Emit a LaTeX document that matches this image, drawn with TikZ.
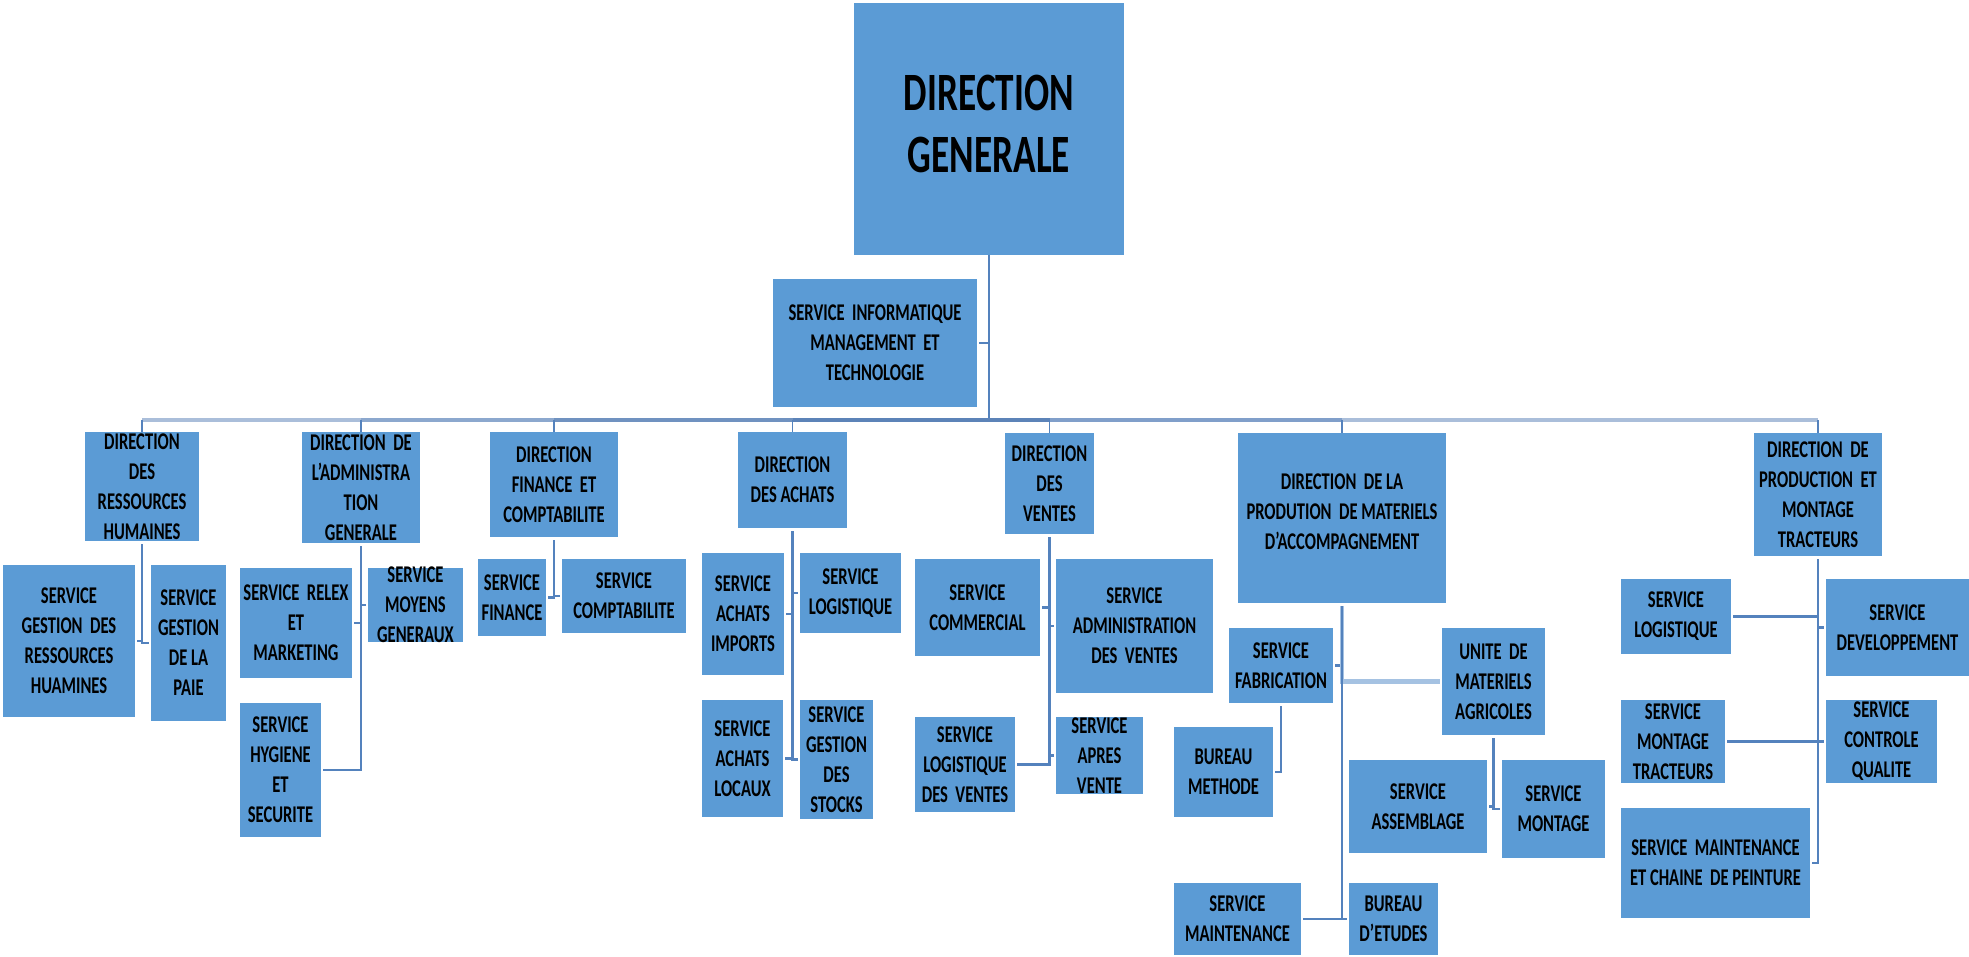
\documentclass[tikz,border=0pt]{standalone}
\usepackage{fontspec}
\setmainfont{Carlito}[FakeStretch=0.69]
\usetikzlibrary{fit}

\tikzset{
  unit/.style={fill={rgb, 255:red, 91; green, 155; blue, 213 }, inner sep=0pt, outer sep=0pt},
  unitext/.style={inner sep=0pt, align=center, text=black, font=\bfseries\fontsize{12}{15}\selectfont},
  chieftext/.style={unitext, font=\bfseries\fontsize{27}{31}\selectfont},
  link/.style={draw={rgb, 255:red, 84; green, 130; blue, 189 }, line width=1.3pt, shorten <=1.5pt, shorten >=1pt},
  stub/.style={draw={rgb, 255:red, 84; green, 130; blue, 189 }, line width=0.9pt},
  bus/.style={line width=2.4pt},
  unitlink/.style={link, draw={rgb, 255:red, 165; green, 194; blue, 226 }, line width=2.4pt}
}

\begin{document}
\begin{tikzpicture}[x=0.5pt,y=0.5pt,yscale=-1,xscale=1]
\useasboundingbox (0,0) rectangle (1969,957);

% Direction generale
\node [unit, fit={(854,3) (1124,255)}] (dg) {};
\node [unit, fit={(773,279) (977,407)}] (info) {};
\coordinate (hub) at (989,420);

% Directions
\node [unit, fit={(85,432) (199,541)}] (drh) {};
\node [unit, fit={(302,432) (420,543)}] (dag) {};
\node [unit, fit={(490,432) (618,537)}] (dfc) {};
\node [unit, fit={(738,432) (847,528)}] (dachats) {};
\node [unit, fit={(1005,433) (1094,534)}] (dventes) {};
\node [unit, fit={(1238,433) (1446,603)}] (dpma) {};
\node [unit, fit={(1754,433) (1882,556)}] (dpmt) {};

% Services
\node [unit, fit={(3,565) (135,717)}] (sgrh) {};
\node [unit, fit={(151,565) (226,721)}] (paie) {};
\node [unit, fit={(240,568) (352,678)}] (relex) {};
\node [unit, fit={(368,568) (463,642)}] (moyens) {};
\node [unit, fit={(240,703) (321,837)}] (hygiene) {};
\node [unit, fit={(478,559) (546,636)}] (finance) {};
\node [unit, fit={(562,559) (686,633)}] (compta) {};
\node [unit, fit={(702,553) (784,675)}] (imports) {};
\node [unit, fit={(800,553) (901,633)}] (logachats) {};
\node [unit, fit={(702,700) (783,817)}] (locaux) {};
\node [unit, fit={(800,700) (873,819)}] (stocks) {};
\node [unit, fit={(915,559) (1040,656)}] (commercial) {};
\node [unit, fit={(1056,559) (1213,693)}] (admventes) {};
\node [unit, fit={(915,717) (1015,812)}] (logventes) {};
\node [unit, fit={(1056,717) (1143,794)}] (apres) {};
\node [unit, fit={(1229,628) (1333,703)}] (fabrication) {};
\node [unit, fit={(1174,727) (1273,817)}] (methode) {};
\node [unit, fit={(1442,628) (1545,735)}] (unite) {};
\node [unit, fit={(1349,760) (1487,853)}] (assemblage) {};
\node [unit, fit={(1502,760) (1605,858)}] (montage) {};
\node [unit, fit={(1174,883) (1301,955)}] (maintenance) {};
\node [unit, fit={(1349,883) (1438,955)}] (etudes) {};
\node [unit, fit={(1621,579) (1731,654)}] (logtract) {};
\node [unit, fit={(1826,579) (1969,676)}] (developpement) {};
\node [unit, fit={(1621,700) (1725,783)}] (montract) {};
\node [unit, fit={(1826,700) (1937,783)}] (qualite) {};
\node [unit, fit={(1621,808) (1810,918)}] (peinture) {};

% Text Node
\node [chieftext] (dg-t) at (989,124) {DIRECTION\\GENERALE};
\node [unitext] (info-t) at (info) {SERVICE~ INFORMATIQUE\\MANAGEMENT~ ET\\TECHNOLOGIE};
\node [unitext] (drh-t) at (drh) {DIRECTION\\DES\\RESSOURCES\\HUMAINES};
\node [unitext] (dag-t) at (dag) {DIRECTION~ DE\\L'ADMINISTRA\\TION\\GENERALE};
\node [unitext] (dfc-t) at (dfc) {DIRECTION\\FINANCE~ ET\\COMPTABILITE};
\node [unitext] (dachats-t) at (dachats) {DIRECTION\\DES ACHATS};
\node [unitext] (dventes-t) at (dventes) {DIRECTION\\DES\\VENTES};
\node [unitext] (dpma-t) at (1342,512) {DIRECTION~ DE LA\\PRODUTION~ DE MATERIELS\\D'ACCOMPAGNEMENT};
\node [unitext] (dpmt-t) at (dpmt) {DIRECTION~ DE\\PRODUCTION~ ET\\MONTAGE\\TRACTEURS};
% Text Node
\node [unitext] (sgrh-t) at (sgrh) {SERVICE\\GESTION~ DES\\RESSOURCES\\HUAMINES};
\node [unitext] (paie-t) at (paie) {SERVICE\\GESTION\\DE LA\\PAIE};
\node [unitext] (relex-t) at (relex) {SERVICE~ RELEX\\ET\\MARKETING};
\node [unitext] (moyens-t) at (moyens) {SERVICE\\MOYENS\\GENERAUX};
\node [unitext] (hygiene-t) at (hygiene) {SERVICE\\HYGIENE\\ET\\SECURITE};
\node [unitext] (finance-t) at (finance) {SERVICE\\FINANCE};
\node [unitext] (compta-t) at (compta) {SERVICE\\COMPTABILITE};
\node [unitext] (imports-t) at (imports) {SERVICE\\ACHATS\\IMPORTS};
\node [unitext] (logachats-t) at (logachats) {SERVICE\\LOGISTIQUE};
\node [unitext] (locaux-t) at (locaux) {SERVICE\\ACHATS\\LOCAUX};
\node [unitext] (stocks-t) at (stocks) {SERVICE\\GESTION\\DES\\STOCKS};
\node [unitext] (commercial-t) at (commercial) {SERVICE\\COMMERCIAL};
\node [unitext] (admventes-t) at (admventes) {SERVICE\\ADMINISTRATION\\DES~ VENTES};
\node [unitext] (logventes-t) at (logventes) {SERVICE\\LOGISTIQUE\\DES~ VENTES};
\node [unitext] (apres-t) at (apres) {SERVICE\\APRES\\VENTE};
\node [unitext] (fabrication-t) at (fabrication) {SERVICE\\FABRICATION};
\node [unitext] (methode-t) at (methode) {BUREAU\\METHODE};
\node [unitext] (unite-t) at (unite) {UNITE~ DE\\MATERIELS\\AGRICOLES};
\node [unitext] (assemblage-t) at (assemblage) {SERVICE\\ASSEMBLAGE};
\node [unitext] (montage-t) at (montage) {SERVICE\\MONTAGE};
\node [unitext] (maintenance-t) at (maintenance) {SERVICE\\MAINTENANCE};
\node [unitext] (etudes-t) at (etudes) {BUREAU\\D'ETUDES};
\node [unitext] (logtract-t) at (logtract) {SERVICE\\LOGISTIQUE};
\node [unitext] (developpement-t) at (developpement) {SERVICE\\DEVELOPPEMENT};
\node [unitext] (montract-t) at (montract) {SERVICE\\MONTAGE\\TRACTEURS};
\node [unitext] (qualite-t) at (qualite) {SERVICE\\CONTROLE\\QUALITE};
\node [unitext] (peinture-t) at (peinture) {SERVICE~ MAINTENANCE\\ET CHAINE~ DE PEINTURE};

% Trunk and bus
\draw [stub] (dg.south) -- (hub);
\draw [link] (dg.south) |- (info.east);
\draw [bus, draw={rgb, 255:red, 170; green, 190; blue, 218 }] (drh.north |- hub) -- (dag.north |- hub);
\draw [bus, draw={rgb, 255:red, 140; green, 168; blue, 206 }] (dag.north |- hub) -- (dfc.north |- hub);
\draw [bus, draw={rgb, 255:red, 112; green, 146; blue, 192 }] (dfc.north |- hub) -- (dachats.north |- hub);
\draw [bus, draw={rgb, 255:red, 92; green, 131; blue, 184 }] (dachats.north |- hub) -- (dventes.north |- hub);
\draw [bus, draw={rgb, 255:red, 128; green, 159; blue, 202 }] (dventes.north |- hub) -- (dpma.north |- hub);
\draw [bus, draw={rgb, 255:red, 170; green, 190; blue, 218 }] (dpma.north |- hub) -- (dpmt.north |- hub);
\draw [stub] (drh.north |- hub) -- (drh.north);
\draw [stub] (dag.north |- hub) -- (dag.north);
\draw [stub] (dfc.north |- hub) -- (dfc.north);
\draw [stub] (dachats.north |- hub) -- (dachats.north);
\draw [stub] (dventes.north |- hub) -- (dventes.north);
\draw [stub] (dpma.north |- hub) -- (dpma.north);
\draw [stub] (dpmt.north |- hub) -- (dpmt.north);

% Elbow links
\draw [link] (drh.south) |- (sgrh.east);
\draw [link] (drh.south) |- (paie.west);
\draw [link] (dag.south) |- (relex.east);
\draw [link] (dag.south) |- (moyens.west);
\draw [link] (dag.south) |- (hygiene.east);
\draw [link] (dfc.south) |- (finance.east);
\draw [link] (dfc.south) |- (compta.west);
\draw [link] (dachats.south) |- (imports.east);
\draw [link] (dachats.south) |- (logachats.west);
\draw [link] (dachats.south) |- (locaux.east);
\draw [link] (dachats.south) |- (stocks.west);
\draw [link] (dventes.south) |- (commercial.east);
\draw [link] (dventes.south) |- (admventes.west);
\draw [link] (dventes.south) |- (logventes.east);
\draw [link] (dventes.south) |- (apres.west);
\draw [link] (dpma.south) |- (fabrication.east);
\draw [unitlink] (dpma.south) |- (unite.west);
\draw [link] (dpma.south) |- (maintenance.east);
\draw [link] (dpma.south) |- (etudes.west);
\draw [link] (fabrication.south) |- (methode.east);
\draw [link] (unite.south) |- (assemblage.east);
\draw [link] (unite.south) |- (montage.west);
\draw [link] (dpmt.south) |- (logtract.east);
\draw [link] (dpmt.south) |- (developpement.west);
\draw [link] (dpmt.south) |- (montract.east);
\draw [link] (dpmt.south) |- (qualite.west);
\draw [link] (dpmt.south) |- (peinture.east);
\end{tikzpicture}
\end{document}
